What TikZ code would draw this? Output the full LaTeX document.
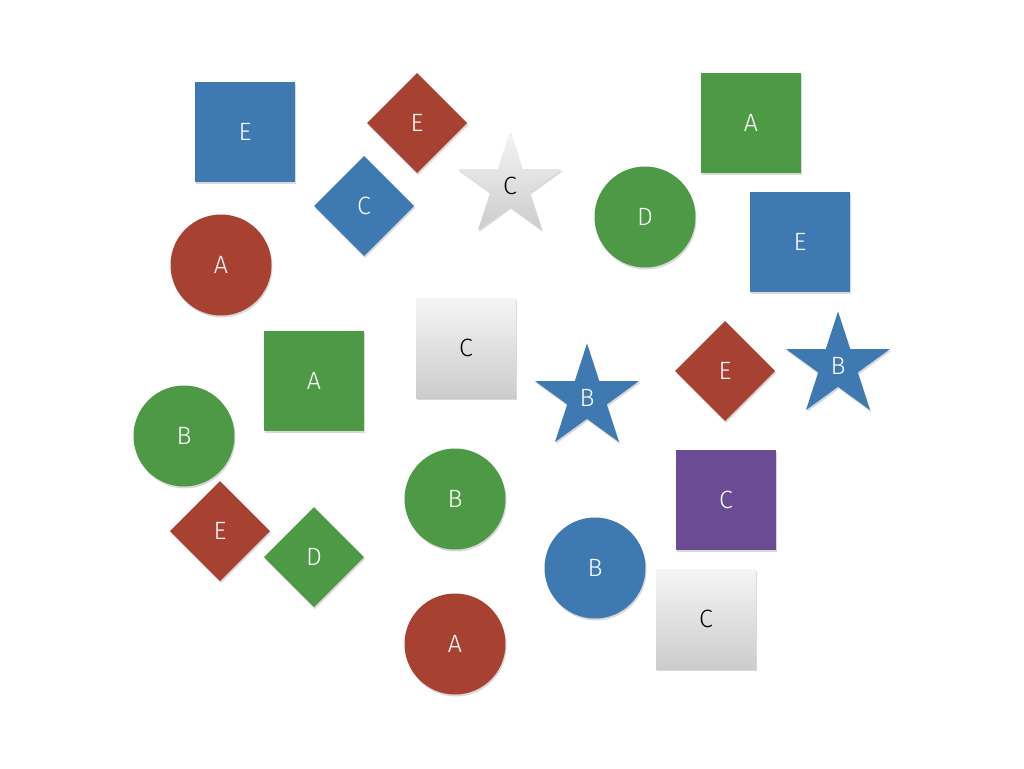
\documentclass[tikz,border=0pt]{standalone}
\usepackage{fontspec}
\setmainfont{Fira Sans Light}
\usetikzlibrary{shapes.geometric,shadows}
\definecolor{tileblue}{RGB}{63,121,178}
\definecolor{tilered}{RGB}{167,66,50}
\definecolor{tilegreen}{RGB}{77,153,69}
\definecolor{tilepurple}{RGB}{106,75,148}
\tikzset{
  tile/.style={inner sep=0pt, outer sep=0pt, text=white,
    font=\fontsize{25}{25}\selectfont,
    drop shadow={opacity=0.3, shadow xshift=1pt, shadow yshift=-2pt}},
  sq/.style={tile, rectangle, minimum size=100pt},
  dm/.style={tile, diamond, minimum size=100pt},
  rd/.style={tile, circle, minimum size=101pt},
  st/.style={tile, star, star points=5, star point ratio=2.618, minimum size=109pt},
  silver/.style={top color=white!96!black, bottom color=black!20, text=black},
}

\begin{document}
\begin{tikzpicture}[x=1pt,y=-1pt]
\useasboundingbox (0,0) rectangle (1024,768);
% squares:
\node[sq, fill=tileblue] (sqBlueE) at (245,132) {E};
\node[sq, fill=tilegreen] (sqGreenA) at (751,123) {A};
\node[sq, fill=tileblue] (sqBlueE2) at (800,242) {E};
\node[sq, silver] (sqSilverC) at (466,348) {C};
\node[sq, fill=tilegreen] (sqGreenA2) at (314,381) {A};
\node[sq, fill=tilepurple] (sqPurpleC) at (726,500) {C};
\node[sq, silver] (sqSilverC2) at (706,619) {C};
% diamonds:
\node[dm, fill=tilered] (dmRedE) at (417,123) {E};
\node[dm, fill=tileblue] (dmBlueC) at (364,206) {C};
\node[dm, fill=tilered] (dmRedE2) at (725,371) {E};
\node[dm, fill=tilered] (dmRedE3) at (220,531) {E};
\node[dm, fill=tilegreen] (dmGreenD) at (314,557) {D};
% circles:
\node[rd, fill=tilegreen] (rdGreenD) at (645,217) {D};
\node[rd, fill=tilered] (rdRedA) at (221,265) {A};
\node[rd, fill=tilegreen] (rdGreenB) at (184,436) {B};
\node[rd, fill=tilegreen] (rdGreenB2) at (455,499) {B};
\node[rd, fill=tileblue] (rdBlueB) at (595,568) {B};
\node[rd, fill=tilered] (rdRedA2) at (455,644) {A};
% stars:
\node[st, silver] (stSilverC) at (510,186) {C};
\node[st, fill=tileblue] (stBlueB) at (587,398) {B};
\node[st, fill=tileblue] (stBlueB2) at (838,366) {B};
\end{tikzpicture}
\end{document}
